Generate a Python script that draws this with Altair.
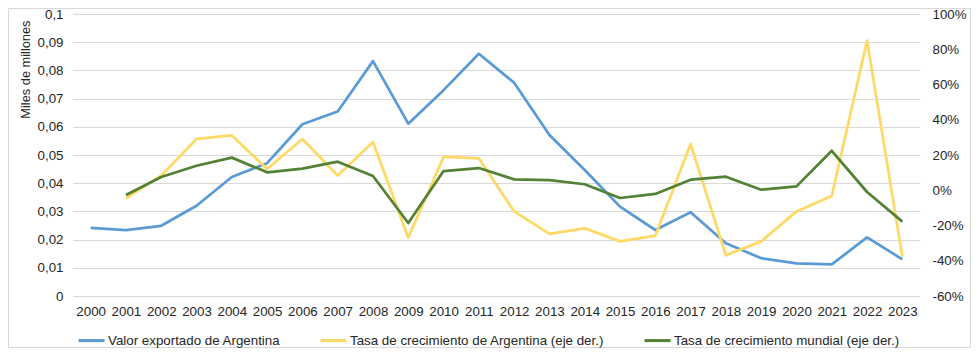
import altair as alt
import pandas as pd

anios = ["2000", "2001", "2002", "2003", "2004", "2005", "2006", "2007", "2008", "2009", "2010", "2011",
         "2012", "2013", "2014", "2015", "2016", "2017", "2018", "2019", "2020", "2021", "2022", "2023"]

valor_exportado = [0.0242, 0.0234, 0.0249, 0.0320, 0.0422, 0.0471, 0.0609, 0.0654, 0.0833, 0.0611, 0.0730, 0.0859,
                   0.0756, 0.0571, 0.0447, 0.0317, 0.0234, 0.0297, 0.0187, 0.0134, 0.0116, 0.0112, 0.0208, 0.0130]

tasa_argentina = [None, -0.046, 0.083, 0.291, 0.311, 0.121, 0.291, 0.083, 0.274, -0.269, 0.189, 0.181,
                  -0.120, -0.248, -0.216, -0.290, -0.258, 0.262, -0.369, -0.290, -0.120, -0.033, 0.849, -0.377]

tasa_mundial = [None, -0.027, 0.075, 0.139, 0.185, 0.102, 0.123, 0.162, 0.081, -0.186, 0.109, 0.126,
                0.062, 0.058, 0.034, -0.044, -0.021, 0.060, 0.077, 0.003, 0.022, 0.224, -0.010, -0.178]

S1 = "Valor exportado de Argentina"
S2 = "Tasa de crecimiento de Argentina (eje der.)"
S3 = "Tasa de crecimiento mundial (eje der.)"
series = [S1, S2, S3]
colores = ["#5B9BD5", "#FFD966", "#548235"]

ticks_izq = [0, 0.01, 0.02, 0.03, 0.04, 0.05, 0.06, 0.07, 0.08, 0.09, 0.1]
ticks_der = [-0.6, -0.4, -0.2, 0, 0.2, 0.4, 0.6, 0.8, 1.0]

df_izq = pd.DataFrame({"anio": anios, "valor": valor_exportado, "serie": S1})
df_der = pd.concat([
    pd.DataFrame({"anio": anios, "tasa": tasa_argentina, "serie": S2}),
    pd.DataFrame({"anio": anios, "tasa": tasa_mundial, "serie": S3}),
]).dropna()

FONT = "Liberation Sans"
FS = 13.33
TXT = "#262626"
GRID = "#d9d9d9"

W, H = 847, 282
PL, PT, PR, PB = 65, 6, 51, 52

color = alt.Color(
    "serie:N",
    scale=alt.Scale(domain=series, range=colores),
    legend=alt.Legend(
        title=None, orient="none", direction="horizontal",
        legendX=4, legendY=312,
        symbolType="stroke", symbolSize=676, symbolStrokeWidth=3,
        labelFont=FONT, labelFontSize=FS, labelColor=TXT, labelLimit=500,
        columnPadding=33, labelOffset=2,
    ),
)

x = alt.X(
    "anio:O",
    sort=anios,
    scale=alt.Scale(type="point", padding=0.5),
    axis=alt.Axis(title=None, labelAngle=0, ticks=False, domain=False, grid=False, labelPadding=8),
)

izq = alt.Chart(df_izq).mark_line(strokeWidth=2.75, strokeJoin="round").encode(
    x=x,
    y=alt.Y(
        "valor:Q",
        scale=alt.Scale(domain=[0, 0.1], nice=False, zero=True),
        axis=alt.Axis(
            values=ticks_izq, orient="left",
            labelExpr="replace(format(datum.value, '.2~f'), '.', ',')",
            title="Miles de millones", titleX=-48, titleY=6, titleAngle=-90,
            titleAlign="right", titleBaseline="middle", titleFontWeight="normal",
            titleFontSize=12.8,
            grid=True, gridColor=GRID, gridWidth=1, ticks=False, domain=False, labelPadding=10,
        ),
    ),
    color=color,
)

der = alt.Chart(df_der).mark_line(strokeWidth=2.75, strokeJoin="round").encode(
    x=x,
    y=alt.Y(
        "tasa:Q",
        scale=alt.Scale(domain=[-0.6, 1.0], nice=False, zero=False),
        axis=alt.Axis(
            values=ticks_der, orient="right",
            labelExpr="round(datum.value * 100) + '%'",
            title=None, grid=False, ticks=False, domain=False, labelPadding=12,
        ),
    ),
    color=color,
)

borde = alt.Chart(pd.DataFrame({"b": [0]})).mark_rect(filled=False, stroke=GRID, strokeWidth=1).encode(
    x=alt.value(-PL + 0.5), x2=alt.value(W + PR - 0.5),
    y=alt.value(-PT + 0.5), y2=alt.value(H + PB - 0.5),
)

chart = alt.layer(izq, der, borde).resolve_scale(y="independent").properties(
    width=W, height=H,
    autosize=alt.AutoSizeParams(type="none"),
    padding={"left": PL, "top": PT, "right": PR, "bottom": PB},
).configure_axis(
    labelFont=FONT, labelFontSize=FS, labelColor=TXT,
    titleFont=FONT, titleColor=TXT,
).configure_view(stroke=None)

chart.save("out.html", embed_options={"renderer": "svg", "actions": False})
